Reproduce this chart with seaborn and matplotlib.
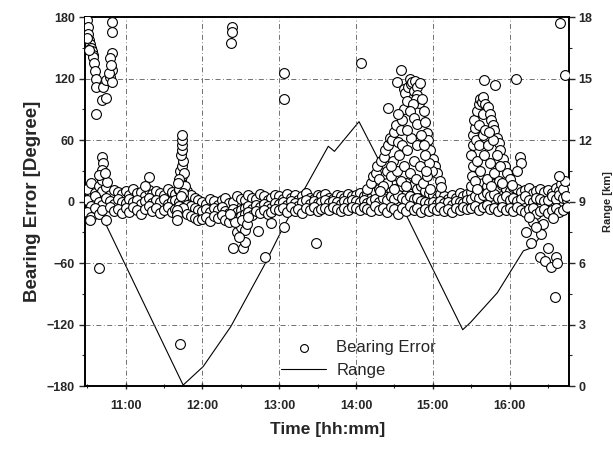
import matplotlib
matplotlib.use("Agg")
import matplotlib.pyplot as plt
import seaborn as sns
import pandas as pd

# ---- data (time in decimal hours, bearing error in degrees, range in km) ----
band_t = [
    10.50, 10.55, 10.60, 10.65, 10.70, 10.75, 10.80, 10.85, 10.90, 10.95,
    11.00, 11.05, 11.10, 11.15, 11.20, 11.25, 11.30, 11.35, 11.40, 11.45,
    11.50, 11.55, 11.60, 11.65, 11.70, 11.75, 11.80, 11.85, 11.90, 11.95,
    12.00, 12.05, 12.10, 12.15, 12.20, 12.25, 12.30, 12.35, 12.40, 12.45,
    12.50, 12.55, 12.60, 12.65, 12.70, 12.75, 12.80, 12.85, 12.90, 12.95,
    13.00, 13.05, 13.10, 13.15, 13.20, 13.25, 13.30, 13.35, 13.40, 13.45,
    13.50, 13.55, 13.60, 13.65, 13.70, 13.75, 13.80, 13.85, 13.90, 13.95,
    14.00, 14.05, 14.10, 14.15, 14.20, 14.25, 14.30, 14.35, 14.40, 14.45,
    14.50, 14.55, 14.60, 14.65, 14.70, 14.75, 14.80, 14.85, 14.90, 14.95,
    15.00, 15.05, 15.10, 15.15, 15.20, 15.25, 15.30, 15.35, 15.40, 15.45,
    15.50, 15.55, 15.60, 15.65, 15.70, 15.75, 15.80, 15.85, 15.90, 15.95,
    16.00, 16.05, 16.10, 16.15, 16.20, 16.25, 16.30, 16.35, 16.40, 16.45,
    16.50, 16.55, 16.60, 16.65, 16.70, 16.75,
]
band_hi = [
    12, 18, 8, 15, 10, 14, 6, 11, 9, 7,
    10, 6, 12, 8, 9, 5, 11, 7, 10, 8, 6, 12, 9, 7, 11, 14, 10, 6, 4, 2,
    0, -2, 3, 1, -3, 2, 4, -1, 0, 5, 3, 2, 6, 4, 3, 7, 5, 2, 4, 6,
    5, 3, 7, 4, 6, 2, 5, 8, 4, 3, 6, 5, 7, 4, 3, 6, 5, 4, 7, 5,
    6, 8, 5, 7, 4, 9, 12, 10, 14, 12, 16, 13, 15, 18, 14, 16, 12, 15, 10, 8,
    6, 4, 7, 5, 3, 6, 4, 8, 5, 7, 9, 14, 16, 18, 15, 20, 17, 14, 16, 12,
    10, 14, 12, 9, 11, 13, 8, 10, 12, 9, 11, 8, 13, 10, 14, 12,
]
band_mid = [
    2, -4, 5, 0, -3, 4, 1, -2, 3, 0,
    -1, 3, 0, 2, -2, 1, 4, -1, 2, 0, 3, -2, 1, 2, 0, 4, -3, -4, -6, -8,
    -9, -7, -10, -6, -8, -5, -9, -11, -7, -10, -8, -6, -4, -7, -3, -5, -2, -4, -6, -1,
    -2, 0, -3, 1, -1, -4, 0, 2, -2, 1, -1, 0, 2, -1, 1, 0, -2, 1, 0, 2,
    1, 0, 2, -1, 1, 3, 0, 4, 2, 5, 3, 6, 4, 2, 5, 3, 4, 1, 0, -1,
    0, -2, 1, -1, 0, -3, 1, 0, -1, 2, 3, 5, 4, 6, 8, 5, 7, 4, 3, 5,
    2, 4, 1, 3, 5, 2, 0, 4, 3, 1, 2, 5, 3, 6, 4, 2,
]
band_lo = [
    -10, -15, -6, -12, -8, -18, -5, -9, -7, -11,
    -6, -10, -5, -8, -12, -7, -4, -9, -6, -11, -8, -5, -10, -7, -4, -6, -12, -14, -16, -18,
    -17, -15, -19, -14, -16, -13, -18, -20, -15, -17, -14, -12, -10, -13, -9, -11, -8, -12, -10, -7,
    -8, -6, -10, -5, -9, -7, -11, -6, -8, -5, -9, -7, -6, -8, -5, -7, -9, -6, -8, -5,
    -6, -8, -5, -7, -9, -4, -8, -6, -10, -5, -7, -12, -6, -9, -4, -8, -6, -10, -7, -9,
    -6, -8, -5, -9, -7, -10, -6, -8, -5, -7, -6, -4, -8, -5, -3, -7, -6, -9, -5, -8,
    -6, -9, -5, -8, -10, -7, -6, -12, -9, -7, -11, -8, -6, -10, -8, -5,
]

# start of record: wrapped bearings near +180 and early excursions
start_t = [10.50, 10.51, 10.51, 10.53, 10.54, 10.55, 10.56, 10.57, 10.58, 10.59,
           10.60, 10.61, 10.62, 10.62, 10.69, 10.71, 10.75, 10.50, 10.52, 10.75,
           10.80, 10.82, 10.83, 10.80, 10.82, 10.83, 10.83, 10.78, 10.81, 10.66,
           10.69, 10.71, 10.69, 10.70, 10.76, 10.66, 10.73, 11.31, 11.25, 10.54]
start_err = [177, 170, 164, 158, 154, 150, 147, 143, 141, 135,
             127, 120, 112, 85, 99, 112, 101, 160, 148, 119,
             122, 128, 145, 140, 165, 175, 117, 125, 133, -65,
             44, 38, 31, 21, 19, 26, 28, 24, 15, -18]

# spike near 11:45
spike_t = [11.70, 11.72, 11.74, 11.71, 11.73, 11.75, 11.72, 11.74, 11.73, 11.74,
           11.73, 11.76, 11.70, 11.77, 11.68, 11.67, 11.67, 11.67, 11.75, 11.72]
spike_err = [12, 20, 25, 30, 35, 40, 45, 50, 55, 60,
             65, 28, 22, 15, 18, -8, -13, -18, 8, 5]

# dip near 12:30
dip_t = [12.40, 12.53, 12.55, 12.45, 12.50, 12.42, 12.55, 12.48, 12.52, 12.58,
         12.60, 12.36, 12.72, 12.89, 13.06]
dip_err = [-45, -45, -39, -30, -25, -20, -28, -35, -18, -22,
           -15, -12, -29, -21, -25]

# first large excursion (14:15 - 15:05)
hump1_t = [14.15, 14.20, 14.22, 14.26, 14.28, 14.30, 14.33, 14.36, 14.38, 14.40,
           14.42, 14.44, 14.47, 14.50, 14.42, 14.52, 14.55, 14.58,
           14.54, 14.62, 14.62, 14.64, 14.66, 14.68, 14.70, 14.72, 14.73, 14.75,
           14.77, 14.79, 14.80, 14.82, 14.84, 14.78, 14.74, 14.70, 14.76, 14.80,
           14.86, 14.88, 14.90, 14.92, 14.94, 14.97, 15.00, 15.03, 15.06, 15.09,
           15.11, 14.99, 14.95,
           14.40, 14.45, 14.48, 14.50, 14.53, 14.56, 14.58, 14.60, 14.62, 14.65,
           14.67, 14.70, 14.72, 14.75, 14.78, 14.80, 14.83, 14.85, 14.87, 14.90,
           14.93, 14.96, 14.66, 14.60, 14.55, 14.35, 14.31, 14.46, 14.88, 14.91]
hump1_err = [12, 18, 25, 28, 35, 22, 40, 44, 50, 30,
             55, 62, 60, 68, 91, 75, 58, 70,
             117, 110, 90, 106, 98, 112, 120, 115, 117, 108,
             118, 112, 104, 96, 116, 100, 95, 88, 82, 76,
             100, 88, 78, 67, 60, 50, 42, 35, 28, 20,
             14, 30, 38,
             18, 25, 40, 12, 30, 45, 20, 55, 35, 15,
             50, 28, 62, 40, 22, 55, 35, 65, 18, 45,
             25, 12, 70, 80, 85, 15, 10, 35, 55, 30]

# second large excursion (15:30 - 16:05)
hump2_t = [15.50, 15.51, 15.52, 15.50, 15.53, 15.52, 15.55, 15.56, 15.54, 15.57,
           15.60, 15.62, 15.64, 15.66, 15.68, 15.70, 15.65,
           15.72, 15.74, 15.76, 15.78, 15.80, 15.83, 15.86, 15.88, 15.91, 15.94,
           15.97, 16.00, 16.03,
           15.55, 15.58, 15.60, 15.62, 15.65, 15.67, 15.70, 15.72, 15.75, 15.78,
           15.80, 15.83, 15.86, 15.88, 15.60, 15.68, 15.73, 15.58, 15.76, 15.90,
           16.14, 16.15, 16.10]
hump2_err = [15, 25, 35, 45, 55, 65, 72, 60, 80, 88,
             95, 100, 97, 102, 95, 90, 85,
             92, 85, 80, 75, 70, 62, 57, 50, 42, 35,
             28, 22, 16,
             20, 40, 55, 30, 65, 45, 22, 55, 38, 60,
             28, 45, 20, 35, 75, 70, 68, 12, 15, 18,
             44, 38, 30]

# end of record: drift towards negative bearings
end_t = [16.22, 16.28, 16.40, 16.46, 16.54, 16.60, 16.59, 16.41, 16.44, 16.56,
         16.67, 16.70, 16.72, 16.65, 16.30, 16.35, 16.25, 16.50, 16.62, 16.74]
end_err = [-30, -40, -54, -58, -64, -54, -93, -32, -22, -16,
           17, 12, 20, 25, -20, -25, -15, -45, -60, 5]

# isolated outliers
out_t = [12.38, 12.38, 12.37, 13.06, 13.06, 11.71, 12.81, 13.48, 14.06, 14.58,
         15.67, 15.81, 16.08, 16.66, 16.72]
out_err = [170, 165, 155, 125, 100, -139, -54, -40, 135, 128,
           119, 114, 120, 174, 124]

range_t = [10.55, 11.75, 12.01, 12.37, 12.80, 13.06, 13.64, 13.72, 14.04, 14.30,
           14.64, 15.39, 15.49, 15.84, 16.18, 16.29, 16.40]
range_km = [9.4, 0.05, 0.95, 2.9, 5.85, 7.8, 11.7, 11.45, 12.9, 11.0,
            8.45, 2.75, 3.1, 4.55, 6.6, 6.75, 7.3]

hour_ticks = [11, 12, 13, 14, 15, 16]
hour_labels = ["11:00", "12:00", "13:00", "14:00", "15:00", "16:00"]

# ---- build frames ----
scatter_df = pd.concat([
    pd.DataFrame({"t": band_t, "err": band_hi}),
    pd.DataFrame({"t": band_t, "err": band_mid}),
    pd.DataFrame({"t": band_t, "err": band_lo}),
    pd.DataFrame({"t": start_t, "err": start_err}),
    pd.DataFrame({"t": spike_t, "err": spike_err}),
    pd.DataFrame({"t": dip_t, "err": dip_err}),
    pd.DataFrame({"t": hump1_t, "err": hump1_err}),
    pd.DataFrame({"t": hump2_t, "err": hump2_err}),
    pd.DataFrame({"t": end_t, "err": end_err}),
    pd.DataFrame({"t": out_t, "err": out_err}),
], ignore_index=True)
range_df = pd.DataFrame({"t": range_t, "km": range_km})

sns.set_style("ticks")
plt.rcParams["font.family"] = ["Liberation Sans", "DejaVu Sans"]

fig = plt.figure(figsize=(6.13, 4.5), dpi=100)
ax = fig.add_axes([0.139, 0.142, 0.79, 0.82])
ax2 = ax.twinx()

sns.scatterplot(data=scatter_df, x="t", y="err", ax=ax, marker="o", s=50,
                facecolor="white", edgecolor="black", linewidth=0.8,
                label="Bearing Error", zorder=3)
sns.lineplot(data=range_df, x="t", y="km", ax=ax2, color="black", lw=0.8,
             estimator=None, sort=False)

# points above the line
ax.set_zorder(ax2.get_zorder() + 1)
ax.patch.set_visible(False)

ax.set_xlim(10.475, 16.78)
ax.set_ylim(-180, 180)
ax2.set_ylim(0, 18)

ax.set_xticks(hour_ticks)
ax.set_xticklabels(hour_labels)
ax.set_xticks([10.5, 11.5, 12.5, 13.5, 14.5, 15.5, 16.5], minor=True)
ax.set_yticks([-180, -120, -60, 0, 60, 120, 180])
ax.set_yticks([-150, -90, -30, 30, 90, 150], minor=True)
ax2.set_yticks([0, 3, 6, 9, 12, 15, 18])
ax2.set_yticks([1.5, 4.5, 7.5, 10.5, 13.5, 16.5], minor=True)

ax.grid(True, which="major", color="0.35", lw=0.6, linestyle=(0, (6, 3, 1, 3)))

for a in (ax, ax2):
    a.tick_params(which="major", length=4, width=1, labelsize=9)
    a.tick_params(which="minor", length=2.5, width=0.8)
    for lab in a.get_xticklabels() + a.get_yticklabels():
        lab.set_fontweight("bold")
    for sp in a.spines.values():
        sp.set_visible(True)
        sp.set_linewidth(1.2)
        sp.set_color("black")
ax.tick_params(axis="x", which="both", direction="inout", pad=8)
ax2.tick_params(axis="y", which="major", pad=2.5)

ax.set_xlabel("Time [hh:mm]", fontsize=12.5, fontweight="bold", labelpad=7)
ax.set_ylabel("Bearing Error [Degree]", fontsize=13.5, fontweight="bold", labelpad=4)
ax2.set_ylabel("Range [km]", fontsize=8, fontweight="bold")
ax2.yaxis.set_label_coords(1.069, 0.5)

h1, l1 = ax.get_legend_handles_labels()
line_handle = ax2.get_lines()[0]
ax.legend(h1 + [line_handle], ["Bearing Error", "Range"], loc="lower center",
          bbox_to_anchor=(0.565, 0.0), frameon=False, fontsize=12,
          handlelength=2.7, handletextpad=0.6, borderaxespad=0.1,
          labelspacing=0.45, markerscale=0.8)
if ax2.get_legend() is not None:
    ax2.get_legend().remove()

fig.savefig("out.png", dpi=100)
